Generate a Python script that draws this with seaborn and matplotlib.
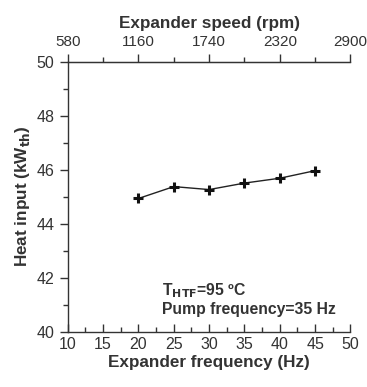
import numpy as np
import pandas as pd
import matplotlib
matplotlib.use('Agg')
import matplotlib.pyplot as plt
import seaborn as sns
from matplotlib.ticker import MultipleLocator

# data
freq_hz = [20, 25, 30, 35, 40, 45]
heat_input = [44.93, 45.37, 45.26, 45.5, 45.68, 45.96]
rpm_ticks = [580, 1160, 1740, 2320, 2900]

sns.set_style('ticks')
plt.rcParams['font.family'] = ['Liberation Sans', 'DejaVu Sans']

df = pd.DataFrame({'freq': freq_hz, 'heat': heat_input})

fig = plt.figure(figsize=(3.67, 3.87), dpi=100)
ax = fig.add_axes([0.1845, 0.143, 0.7705, 0.698])

sns.lineplot(data=df, x='freq', y='heat', ax=ax, color='#222222', linewidth=1.0)
ax.plot(df['freq'], df['heat'], linestyle='none', marker='+', markersize=7.5,
        markeredgewidth=2.2, color='#111111')

ax.set_xlim(10, 50)
ax.set_ylim(40, 50)
ax.xaxis.set_major_locator(MultipleLocator(5))
ax.xaxis.set_minor_locator(MultipleLocator(2.5))
ax.yaxis.set_major_locator(MultipleLocator(2))
ax.yaxis.set_minor_locator(MultipleLocator(1))

ax.spines['right'].set_visible(False)
for s in ['left', 'bottom', 'top']:
    ax.spines[s].set_color('#333333')
    ax.spines[s].set_linewidth(1.0)

ax.tick_params(axis='x', which='major', direction='in', length=6, width=1, colors='#333333',
               labelsize=11.5, labelcolor='#333333', pad=4)
ax.tick_params(axis='x', which='minor', direction='in', length=3.5, width=1, colors='#333333')
ax.tick_params(axis='y', which='major', direction='out', length=6, width=1, colors='#333333',
               labelsize=11.5, labelcolor='#333333')
ax.tick_params(axis='y', which='minor', direction='out', length=3.5, width=1, colors='#333333')

ax.set_xlabel('Expander frequency (Hz)', fontsize=12.3, fontweight='bold', color='#333333', labelpad=2)
ax.set_ylabel(r'Heat input (kW$_{\mathbf{th}}$)', fontsize=12.3, fontweight='bold', color='#333333', labelpad=3)

# top axis: expander speed in rpm (58 rpm per Hz)
top = ax.secondary_xaxis('top', functions=(lambda f: f * 58.0, lambda r: r / 58.0))
top.set_xticks(rpm_ticks)
top.xaxis.set_minor_locator(MultipleLocator(290))
top.tick_params(which='major', direction='out', length=6, width=1, colors='#333333',
                labelsize=11, labelcolor='#333333', pad=3)
top.tick_params(which='minor', direction='out', length=3.5, width=1, colors='#333333')
top.spines['top'].set_color('#333333')
top.set_xlabel('Expander speed (rpm)', fontsize=12.3, fontweight='bold', color='#333333', labelpad=5)

ax.text(23.3, 41.5, r'T$_{\mathbf{HTF}}$=95 ºC', fontsize=11.3, fontweight='bold', color='#333333', va='center')
ax.text(23.3, 40.82, 'Pump frequency=35 Hz', fontsize=11.3, fontweight='bold', color='#333333', va='center')

fig.savefig('out.png', dpi=100)
